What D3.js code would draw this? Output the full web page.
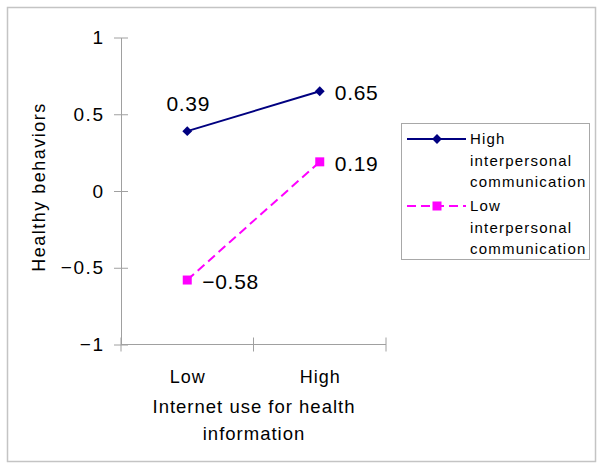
<!DOCTYPE html>
<html>
<head>
<meta charset="utf-8">
<script src="https://cdn.jsdelivr.net/npm/d3@7"></script>
<style>
  html, body { margin: 0; padding: 0; background: #fff; }
  svg { display: block; font-family: "Liberation Sans", Arial, sans-serif; }
</style>
</head>
<body>
<svg id="chart" width="604" height="470"></svg>
<script>
// ---- data ----
const categories = ["Low", "High"];
const seriesNames = ["High interpersonal communication", "Low interpersonal communication"];
const legendLines = [["High", "interpersonal", "communication"], ["Low", "interpersonal", "communication"]];
const highComm = [0.39, 0.65];
const lowComm = [-0.58, 0.19];
const yTicks = [-1, -0.5, 0, 0.5, 1];
const yTickLabels = ["\u22121", "\u22120.5", "0", "0.5", "1"];
const xTitleLines = ["Internet use for health", "information"];
const yTitle = "Healthy behaviors";

const series = [
  { name: seriesNames[0], values: highComm, color: "#000080", dash: null, marker: "diamond" },
  { name: seriesNames[1], values: lowComm, color: "#FF00FF", dash: "9,5", marker: "square" }
];

const svg = d3.select("#chart");

// outer frame
svg.append("rect").attr("x", 7.5).attr("y", 7.5).attr("width", 588).attr("height", 454)
  .attr("fill", "none").attr("stroke", "#c4c4c4").attr("stroke-width", 1.5);

const plot = { left: 121, right: 386, top: 37.5, bottom: 344.5 };
const x = d3.scaleBand().domain(categories).range([plot.left, plot.right]).paddingInner(0).paddingOuter(0);
const y = d3.scaleLinear().domain([-1, 1]).range([plot.bottom, plot.top]);

const axisColor = "#a0a0a0";

// y axis
const yAxis = svg.append("g").attr("transform", `translate(${plot.left},0)`)
  .call(d3.axisLeft(y).tickValues(yTicks).tickFormat((d, i) => yTickLabels[i]).tickSize(7).tickSizeOuter(0).tickPadding(11));
yAxis.select(".domain").attr("stroke", axisColor);
yAxis.selectAll(".tick line").attr("x1", 7).attr("stroke", axisColor);
yAxis.selectAll(".tick text").attr("font-size", 19).attr("letter-spacing", 1.6).attr("fill", "#000")
  .attr("font-family", "Liberation Sans, Arial, sans-serif").attr("dx", 1.6);

// x axis (ticks at band boundaries)
const xg = svg.append("g").attr("transform", `translate(0,${plot.bottom})`);
xg.append("line").attr("x1", plot.left).attr("x2", plot.right).attr("y1", 0).attr("y2", 0).attr("stroke", axisColor);
const boundaries = categories.map(c => x(c)).concat([x(categories[categories.length - 1]) + x.bandwidth()]);
xg.selectAll("line.tk").data(boundaries).enter().append("line").attr("class", "tk")
  .attr("x1", d => d).attr("x2", d => d).attr("y1", -7).attr("y2", 7).attr("stroke", axisColor);
xg.selectAll("text.cat").data(categories).enter().append("text").attr("class", "cat")
  .attr("x", d => x(d) + x.bandwidth() / 2 + 0.5).attr("y", 38.5)
  .attr("text-anchor", "middle").attr("font-size", 18).attr("letter-spacing", 1).text(d => d);

// axis titles
svg.selectAll("text.xt").data(xTitleLines).enter().append("text").attr("class", "xt")
  .attr("x", (plot.left + plot.right) / 2 + 0.5).attr("y", (d, i) => 413 + i * 27)
  .attr("text-anchor", "middle").attr("font-size", 18.5).attr("letter-spacing", 1).text(d => d);
svg.append("text").attr("transform", `translate(45,${(plot.top + plot.bottom) / 2 - 4}) rotate(-90)`)
  .attr("text-anchor", "middle").attr("font-size", 18).attr("letter-spacing", 1.5).text(yTitle);

const diamond = d3.symbol(d3.symbolDiamond2, 62);

// lines and markers
const line = d3.line().x((d, i) => x(categories[i]) + x.bandwidth() / 2).y(d => y(d));
series.forEach((s, si) => {
  svg.append("path").attr("d", line(s.values)).attr("fill", "none").attr("stroke", s.color)
    .attr("stroke-width", 2).attr("stroke-dasharray", s.dash);
  const g = svg.append("g");
  s.values.forEach((v, i) => {
    const cx = x(categories[i]) + x.bandwidth() / 2, cy = y(v);
    if (s.marker === "diamond") {
      g.append("path").attr("d", diamond()).attr("transform", `translate(${cx},${cy})`).attr("fill", s.color);
    } else {
      g.append("rect").attr("x", cx - 4.5).attr("y", cy - 4.5).attr("width", 9).attr("height", 9).attr("fill", s.color);
    }
    const fmt = v < 0 ? "\u2212" + Math.abs(v).toFixed(2) : v.toFixed(2);
    const above = si === 0 && i === 0;
    g.append("text")
      .attr("x", above ? cx + 1 : cx + 15)
      .attr("y", above ? cy - 20 : cy + 9)
      .attr("text-anchor", above ? "middle" : "start")
      .attr("font-size", 21).attr("letter-spacing", 0.7).text(fmt);
  });
});

// legend
const lg = svg.append("g");
lg.append("rect").attr("x", 401.5).attr("y", 123.5).attr("width", 188).attr("height", 136)
  .attr("fill", "#fff").attr("stroke", "#a8a8a8").attr("stroke-width", 1);
const entryY = [144, 211];
series.forEach((s, si) => {
  const by = entryY[si];
  const ly = by - 5;
  lg.append("line").attr("x1", 407).attr("x2", 466).attr("y1", ly).attr("y2", ly)
    .attr("stroke", s.color).attr("stroke-width", 2).attr("stroke-dasharray", s.dash);
  if (s.marker === "diamond") {
    lg.append("path").attr("d", diamond()).attr("transform", `translate(437,${ly})`).attr("fill", s.color);
  } else {
    lg.append("rect").attr("x", 432.5).attr("y", ly - 4.5).attr("width", 9).attr("height", 9).attr("fill", s.color);
  }
  legendLines[si].forEach((t, li) => {
    lg.append("text").attr("x", 470).attr("y", by + li * 21.7).attr("font-size", 15).attr("letter-spacing", 1.2).text(t);
  });
});
</script>
</body>
</html>
